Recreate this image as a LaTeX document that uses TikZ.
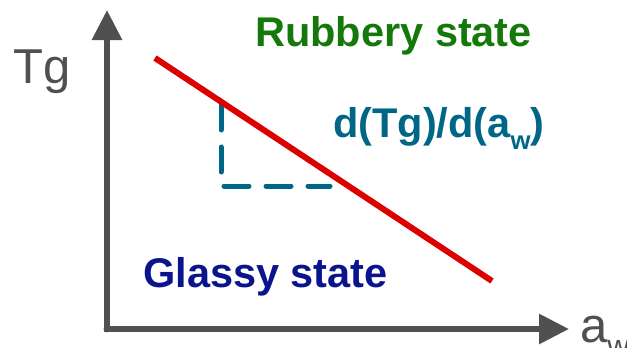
\documentclass[tikz,border=0pt]{standalone}
\usepackage{fontspec}
\setmainfont{Liberation Sans}
\usetikzlibrary{arrows.meta}
\definecolor{axisgray}{RGB}{80,80,80}
\definecolor{linered}{RGB}{221,0,0}
\definecolor{slopeteal}{RGB}{0,102,133}
\definecolor{rubbergreen}{RGB}{20,120,10}
\definecolor{glassnavy}{RGB}{10,20,140}
% lowered, smaller subscript letter
\newcommand{\lowsub}[1]{\raisebox{-0.3em}{\fontsize{0.62em}{0.62em}\selectfont #1}}
\begin{document}
\begin{tikzpicture}[x=1pt,y=-1pt,
  axisline/.style={draw=axisgray,line width=6pt,
    -{Triangle[length=30pt,width=29pt]}},
  bigbold/.style={font=\fontsize{41.5}{48}\selectfont\bfseries,inner sep=0pt,anchor=base west},
  axislabel/.style={font=\fontsize{49}{56}\selectfont,text=axisgray,inner sep=0pt,anchor=base west}]
  \useasboundingbox (0,0) rectangle (627,348);
  % axes
  \coordinate (origin) at (107,329);
  \coordinate (ytip) at (107,10);
  \coordinate (xtip) at (569,329);
  \coordinate (xstart) at (104,329);
  \fill[axisgray] (origin) circle (3.4pt);
  \draw[axisline] (origin) -- (ytip);
  \draw[axisline] (xstart) -- (xtip);
  % slope triangle
  \coordinate (ta) at (221,105);
  \coordinate (tb) at (221,186);
  \coordinate (tc) at (330,186);
  \draw[slopeteal,line width=5pt,line cap=round,dash pattern=on 25pt off 17pt]
    (ta) -- (tb) -- (tc);
  % glass transition line
  \coordinate (la) at (155,58);
  \coordinate (lb) at (492,281);
  \draw[linered,line width=6pt] (la) -- (lb);
  % labels
  \node[axislabel] (tg) at (13,83) {Tg};
  \node[axislabel] (aw) at (580,342) {a\lowsub{w}};
  \node[bigbold,text=rubbergreen] (rub) at (255,46) {Rubbery state};
  \node[bigbold,text=glassnavy] (glass) at (143,287) {Glassy state};
  \node[bigbold,text=slopeteal] (slope) at (333,137) {d(Tg)/d(a\lowsub{w})};
\end{tikzpicture}
\end{document}
